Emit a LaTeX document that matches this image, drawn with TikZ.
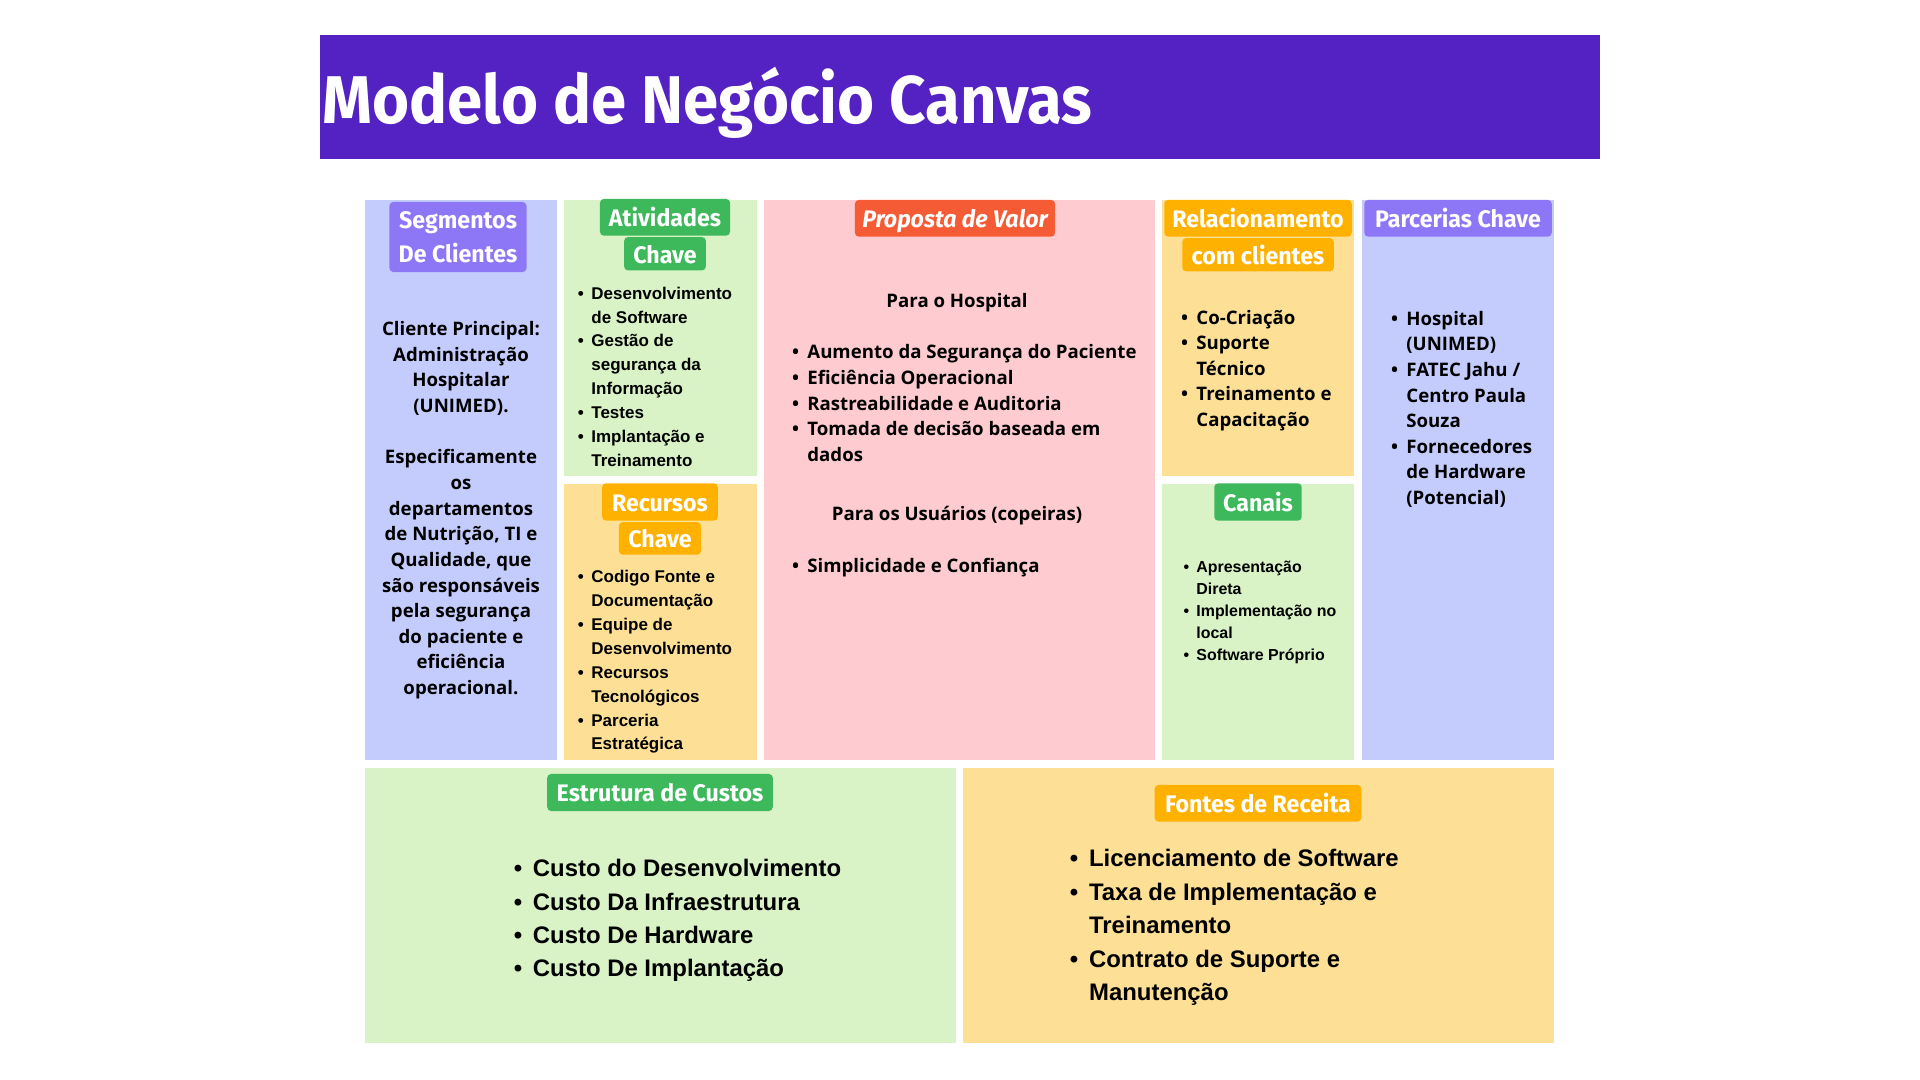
\documentclass[tikz,border=0pt]{standalone}
\usepackage{fontspec}
\setmainfont{Open Sans}
\newfontfamily\arialfont{Liberation Sans}
\newfontfamily\titlefont[FakeStretch=0.94]{Fira Sans}
\newfontfamily\tagfont[FakeStretch=0.97]{Fira Sans}
\usepackage{xcolor}
\usepackage{tikz}
\usetikzlibrary{positioning}

\definecolor{roxo}{HTML}{5421C2}
\definecolor{azul}{HTML}{C4CCFD}
\definecolor{lilas}{HTML}{8E77F7}
\definecolor{verde}{HTML}{D9F2C6}
\definecolor{verdeesc}{HTML}{3DB95B}
\definecolor{laranja}{HTML}{FDE096}
\definecolor{laranjaesc}{HTML}{FFB100}
\definecolor{rosa}{HTML}{FECBD0}
\definecolor{vermelho}{HTML}{F55B35}

\newcommand{\itm}{\llap{•\hspace{0.45em}}}

\begin{document}
\begin{tikzpicture}[x=0.01cm, y=-0.01cm,
    tagbase/.style={rounded corners=1.1pt, text=white, inner sep=0pt, align=center,
        font={\tagfont\bfseries\fontsize{6.8}{9.72}\selectfont}},
    tag/.style={tagbase, text height=5.4pt, text depth=0pt},
    corpo/.style={inner sep=0pt, text=black, font={\bfseries\fontsize{5.3}{7.29}\selectfont}},
    lista/.style={corpo, align=left, anchor=base west},
    listap/.style={lista, font={\arialfont\bfseries\fontsize{4.83}{6.81}\selectfont}},
    listac/.style={lista, font={\arialfont\bfseries\fontsize{4.53}{6.31}\selectfont}},
    listag/.style={lista, font={\arialfont\bfseries\fontsize{6.8}{9.5}\selectfont}}]

    \useasboundingbox (0,0) rectangle (1920,1080);

    % =================================================================
    % 1. FAIXA DO TÍTULO
    % =================================================================
    \fill[roxo] (320,35) rectangle (1600,159);
    \node[anchor=base west, inner sep=0pt, text=white,
          font={\titlefont\bfseries\fontsize{19.2}{23}\selectfont}] (titulo) at (322,124) {Modelo de Negócio Canvas};

    % =================================================================
    % 2. BLOCOS DO CANVAS
    % =================================================================
    \fill[azul] (365,200) rectangle (557,760);      % segmentos
    \fill[verde] (564,200) rectangle (757,476);     % atividades
    \fill[laranja] (564,484) rectangle (757,760);   % recursos
    \fill[rosa] (764,200) rectangle (1155,760);     % proposta
    \fill[laranja] (1162,200) rectangle (1354,476); % relacionamento
    \fill[verde] (1162,484) rectangle (1354,760);   % canais
    \fill[azul] (1362,200) rectangle (1554,760);    % parcerias
    \fill[verde] (365,768) rectangle (956,1043);    % custos
    \fill[laranja] (963,768) rectangle (1554,1043); % receita

    % =================================================================
    % 3. ETIQUETAS DOS BLOCOS
    % =================================================================
    \node[tagbase, fill=lilas, minimum width=1.37cm, minimum height=0.70cm] (segtag) at (458,237) {Segmentos\\De Clientes};

    \node[tag, fill=verdeesc, minimum width=1.30cm, minimum height=0.367cm] (ativ1) at (665,217.3) {Atividades};
    \node[tag, fill=verdeesc, minimum width=0.817cm, minimum height=0.333cm, below=0pt of ativ1] (ativ2) {Chave};

    \node[tag, fill=laranjaesc, minimum width=1.157cm, minimum height=0.374cm] (recu1) at (660,502) {Recursos};
    \node[tag, fill=laranjaesc, minimum width=0.82cm, minimum height=0.326cm, below=0pt of recu1] (recu2) {Chave};

    \node[tag, fill=vermelho, minimum width=2.0cm, minimum height=0.367cm, font={\tagfont\bfseries\itshape\fontsize{6.8}{9.72}\selectfont}] (proptag) at (955,218.3) {Proposta de Valor};

    \node[tag, fill=laranjaesc, minimum width=1.874cm, minimum height=0.367cm] (rel1) at (1258,218.3) {Relacionamento};
    \node[tag, fill=laranjaesc, minimum width=1.514cm, minimum height=0.333cm, below=0pt of rel1] (rel2) {com clientes};

    \node[tag, fill=lilas, minimum width=1.874cm, minimum height=0.367cm] (parctag) at (1458,218.3) {Parcerias Chave};
    \node[tag, fill=verdeesc, minimum width=0.874cm, minimum height=0.374cm] (cantag) at (1258,502) {Canais};

    \node[tag, fill=verdeesc, minimum width=2.254cm, minimum height=0.37cm] (custag) at (660,792.5) {Estrutura de Custos};
    \node[tag, fill=laranjaesc, minimum width=2.065cm, minimum height=0.367cm] (rectag) at (1258,803.3) {Fontes de Receita};

    % =================================================================
    % 4. TEXTOS DOS BLOCOS (ancorados na linha de base da última linha)
    % =================================================================
    \node[corpo, align=center, anchor=base] (segtxt) at (461,694.6) {Cliente Principal:\\Administração\\Hospitalar\\(UNIMED).\\[7.29pt]Especificamente\\os\\departamentos\\de Nutrição, TI e\\Qualidade, que\\são responsáveis\\pela segurança\\do paciente e\\eficiência\\operacional.};

    \node[listap] (ativtxt) at (590.7,466.7) {\itm Desenvolvimento\\de Software\\\itm Gestão de\\segurança da\\Informação\\\itm Testes\\\itm Implantação e\\Treinamento};
    \node[listap] (recutxt) at (590.7,750) {\itm Codigo Fonte e\\Documentação\\\itm Equipe de\\Desenvolvimento\\\itm Recursos\\Tecnológicos\\\itm Parceria\\Estratégica};

    \node[corpo, anchor=base] (hosp) at (957,307.3) {Para o Hospital};
    \node[lista] (hosptxt) at (806.7,461.3) {\itm Aumento da Segurança do Paciente\\\itm Eficiência Operacional\\\itm Rastreabilidade e Auditoria\\\itm Tomada de decisão baseada em\\dados};
    \node[corpo, anchor=base] (usu) at (957,520.6) {Para os Usuários (copeiras)};
    \node[lista] (usutxt) at (806.7,572.3) {\itm Simplicidade e Confiança};

    \node[lista] (reltxt) at (1195.7,426.6) {\itm Co-Criação\\\itm Suporte\\Técnico\\\itm Treinamento e\\Capacitação};
    \node[listac] (cantxt) at (1195.7,661) {\itm Apresentação\\Direta\\\itm Implementação no\\local\\\itm Software Próprio};
    \node[lista] (parctxt) at (1405.7,504.6) {\itm Hospital\\(UNIMED)\\\itm FATEC Jahu /\\Centro Paula\\Souza\\\itm Fornecedores\\de Hardware\\(Potencial)};

    \node[listag] (custxt) at (532.2,976.9) {\itm Custo do Desenvolvimento\\\itm Custo Da Infraestrutura\\\itm Custo De Hardware\\\itm Custo De Implantação};
    \node[listag] (rectxt) at (1088.4,1000.6) {\itm Licenciamento de Software\\\itm Taxa de Implementação e\\Treinamento\\\itm Contrato de Suporte e\\Manutenção};

\end{tikzpicture}
\end{document}
